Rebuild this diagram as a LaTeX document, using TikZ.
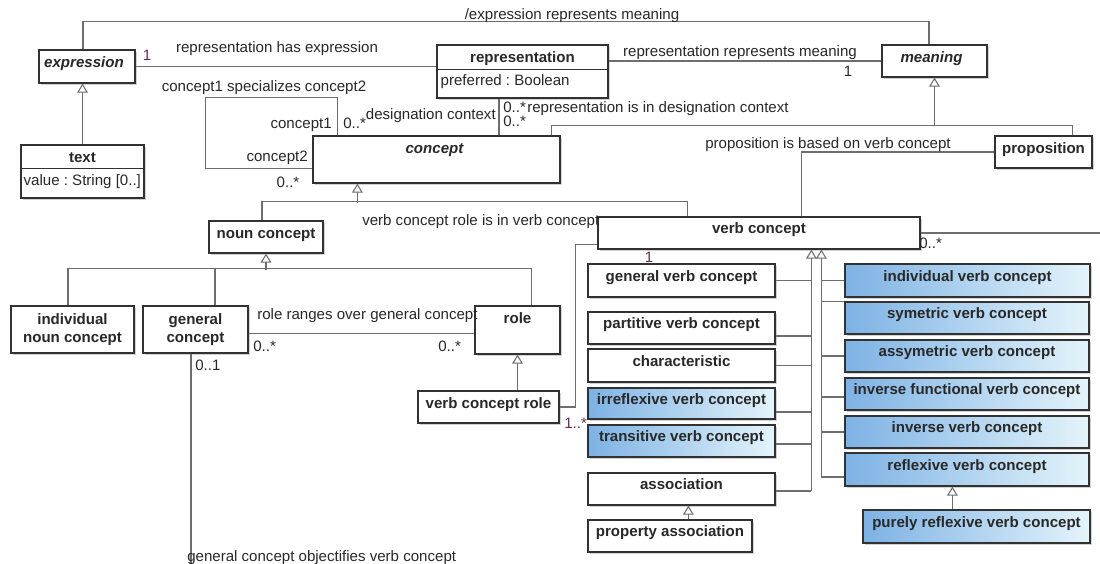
\documentclass[tikz,border=0pt]{standalone}
\usepackage{fontspec}
\setmainfont{Liberation Sans}
\frenchspacing
\usetikzlibrary{arrows.meta,calc,fit,shadows}
\definecolor{lnc}{RGB}{110,110,110}
\definecolor{bdc}{RGB}{50,50,50}
\definecolor{txc}{RGB}{40,40,40}
\definecolor{mult}{RGB}{105,45,80}
\definecolor{gL}{RGB}{125,178,228}
\definecolor{gR}{RGB}{228,244,251}
\tikzset{
 box/.style={draw=bdc, line width=0.9pt, fill=white, inner sep=0pt,
   drop shadow={shadow xshift=1.5pt, shadow yshift=-1.5pt, opacity=0.35}},
 gbox/.style={box, left color=gL, right color=gR},
 ttl/.style={font=\fontsize{11.3}{13.5}\selectfont\bfseries, text=txc, anchor=base, inner sep=0pt, yshift=-0.8pt},
 ittl/.style={font=\fontsize{11.3}{13.5}\selectfont\bfseries\itshape, text=txc, anchor=base, inner sep=0pt, yshift=-0.8pt},
 ttl2/.style={font=\fontsize{11.3}{13.5}\selectfont\bfseries, text=txc, anchor=north, inner sep=0pt, align=center},
 lbl/.style={font=\fontsize{11.3}{13.5}\selectfont, text=txc, inner sep=0pt},
 conn/.style={draw=lnc, line width=0.8pt},
 gen/.style={conn, -{Triangle[open, length=6.75pt, width=8pt, line width=0.8pt]}},
}
\begin{document}
\begin{tikzpicture}[x=0.75pt,y=-0.75pt]
\fill[white] (0,0) rectangle (1100,564);
\useasboundingbox (0,0) rectangle (1100,564);

% ---------- boxes ----------
\node[box, fit={(39,50) (135,83)}] (expression) {};
\node[ittl] (expression-t) at ($(expression.north)+(-3,17)$) {expression};

\node[box, fit={(21,145) (144,198)}] (txt) {};
\node[ttl] (txt-t) at ($(txt.north)+(0,17)$) {text};
\node[lbl, anchor=base west] (txt-a) at ($(txt.north west)+(3,41)$) {value : String [0..]};

\node[box, fit={(437,45) (608,98)}] (representation) {};
\node[ttl] (representation-t) at ($(representation.north)+(0,17)$) {representation};
\node[lbl, anchor=base west] (representation-a) at ($(representation.north west)+(4,41)$) {preferred : Boolean};

\node[box, fit={(882,45) (987,77)}] (meaning) {};
\node[ittl] (meaning-t) at ($(meaning.north)+(-3,17)$) {meaning};

\node[box, fit={(313,136) (560,183)}] (concept) {};
\node[ittl] (concept-t) at ($(concept.north)+(-2,17)$) {concept};

\node[box, fit={(995,136) (1092,168)}] (proposition) {};
\node[ttl] (proposition-t) at ($(proposition.north)+(0,17)$) {proposition};

\node[box, fit={(209,221) (323,253)}] (noun) {};
\node[ttl] (noun-t) at ($(noun.north)+(0,17)$) {noun concept};

\node[box, fit={(598,217) (920,249)}] (verb) {};
\node[ttl] (verb-t) at ($(verb.north)+(0,16)$) {verb concept};

\node[box, fit={(11,306) (134,353)}] (ind) {};
\node[ttl2] (ind-t) at ($(ind.north)+(0,7.5)$) {individual\\noun concept};

\node[box, fit={(143,306) (248,353)}] (gc) {};
\node[ttl2] (gc-t) at ($(gc.north)+(0,7.5)$) {general\\concept};

\node[box, fit={(475,306) (560,354)}] (role) {};
\node[ttl] (role-t) at ($(role.north)+(0,17)$) {role};

\node[box, fit={(418,391) (559,423)}] (vcr) {};
\node[ttl] (vcr-t) at ($(vcr.north)+(0,17)$) {verb concept role};

\node[box, fit={(588,264) (775,297)}] (gvc) {};
\node[ttl] (gvc-t) at ($(gvc.north)+(0,17)$) {general verb concept};
\node[box, fit={(588,312) (775,344)}] (pvc) {};
\node[ttl] (pvc-t) at ($(pvc.north)+(0,16)$) {partitive verb concept};
\node[box, fit={(588,349) (775,382)}] (chr) {};
\node[ttl] (chr-t) at ($(chr.north)+(0,17)$) {characteristic};
\node[gbox, fit={(588,388) (775,419)}] (irr) {};
\node[ttl] (irr-t) at ($(irr.north)+(0,16)$) {irreflexive verb concept};
\node[gbox, fit={(588,425) (775,457)}] (trn) {};
\node[ttl] (trn-t) at ($(trn.north)+(0,16)$) {transitive verb concept};
\node[box, fit={(588,473) (775,505)}] (asc) {};
\node[ttl] (asc-t) at ($(asc.north)+(0,16)$) {association};
\node[box, fit={(588,520) (752,552)}] (pas) {};
\node[ttl] (pas-t) at ($(pas.north)+(0,16)$) {property association};

\node[gbox, fit={(845,264) (1090,297)}] (ivc) {};
\node[ttl] (ivc-t) at ($(ivc.north)+(0,17)$) {individual verb concept};
\node[gbox, fit={(845,302) (1089,334)}] (sym) {};
\node[ttl] (sym-t) at ($(sym.north)+(0,16)$) {symetric verb concept};
\node[gbox, fit={(845,340) (1089,372)}] (asy) {};
\node[ttl] (asy-t) at ($(asy.north)+(0,16)$) {assymetric verb concept};
\node[gbox, fit={(845,378) (1089,410)}] (ifv) {};
\node[ttl] (ifv-t) at ($(ifv.north)+(0,16)$) {inverse functional verb concept};
\node[gbox, fit={(845,416) (1089,448)}] (inv) {};
\node[ttl] (inv-t) at ($(inv.north)+(0,16)$) {inverse verb concept};
\node[gbox, fit={(845,453) (1089,486)}] (rfl) {};
\node[ttl] (rfl-t) at ($(rfl.north)+(0,17)$) {reflexive verb concept};
\node[gbox, fit={(863,510) (1090,543)}] (prf) {};
\node[ttl] (prf-t) at ($(prf.north)+(0,17)$) {purely reflexive verb concept};

% compartment dividers
\draw[draw=bdc, line width=0.9pt] ($(txt.north west)+(0,24)$) -- ($(txt.north east)+(0,24)$);
\draw[draw=bdc, line width=0.9pt] ($(representation.north west)+(0,25)$) -- ($(representation.north east)+(0,25)$);

% ---------- connectors ----------
% /expression represents meaning
\draw[conn] ($(expression.north)+(-4,0)$) -- ++(0,-28) -| ($(meaning.north)+(-5.5,0)$);
% text -> expression
\draw[gen] (txt.north) -- (txt.north |- expression.south);
% representation has expression
\draw[conn] (expression.east) -- (expression.east -| representation.west);
% representation represents meaning
\draw[conn] (meaning.west -| representation.east) -- (meaning.west);
% representation is in designation context
\coordinate (dc) at ($(representation.south)+(-23.5,0)$);
\draw[conn] (dc) -- (dc |- concept.north);
% concept1 specializes concept2
\draw[conn] ($(concept.north west)+(25,0)$) -- ++(0,-38) -| ++(-132,71) -- ($(concept.north west)+(0,33)$);
% concept, proposition -> meaning
\coordinate (pbus) at ($(concept.north east)+(-9,-10)$);
\draw[conn] ($(concept.north east)+(-9,0)$) |- ($(proposition.north east)+(-20,-10)$) -- ($(proposition.north east)+(-20,0)$);
\draw[gen] (pbus -| meaning.south) -- (meaning.south);
% proposition is based on verb concept
\draw[conn] (proposition.west) -| ($(verb.north west)+(204,0)$);
% noun concept, verb concept -> concept
\coordinate (cbus) at ($(concept.south west)+(45,19)$);
\draw[gen] (cbus) -- (cbus |- concept.south);
\draw[conn] ($(noun.north)+(-4,0)$) |- ($(verb.north west)+(90,-15)$) -- ($(verb.north west)+(90,0)$);
% individual noun concept, general concept, role -> noun concept
\draw[gen] ($(noun.south)+(0,16)$) -- (noun.south);
\draw[conn] ($(ind.north)+(-4.5,0)$) |- ($(role.north west)+(57,-37)$) -- ($(role.north west)+(57,0)$);
\draw[conn] ($(gc.north)+(19.5,0)$) -- ++(0,-37);
% role ranges over general concept
\draw[conn] ($(gc.north east)+(0,28)$) -- ($(role.north west)+(0,28)$);
% verb concept role -> role
\draw[gen] (role.south |- vcr.north) -- (role.south);
% verb concept role is in verb concept
\draw[conn] (vcr.east) -- ++(16,0) |- ($(verb.south west)+(0,-5)$);
% general concept objectifies verb concept
\draw[conn] ($(gc.south)+(-4.5,0)$) -- ++(0,215);
\coordinate (offR) at ($(verb.east)+(185,0)$);
\draw[conn] (verb.east) -- (offR);
% verb concept specialisations, left bus
\coordinate (lb) at ($(verb.south west)+(214,0)$);
\coordinate (rb) at ($(verb.south west)+(224,0)$);
\coordinate (ascE) at ($(asc.east)+(0,2)$);
\draw[gen] (ascE -| lb) -- (lb);
\draw[conn] (ascE) -- (ascE -| lb);
\draw[conn] (gvc.east) -- (gvc.east -| lb);
\coordinate (pvcE) at ($(pvc.east)+(0,8)$);
\draw[conn] (pvcE) -- (pvcE -| lb);
\draw[conn] (chr.east) -- (chr.east -| lb);
\coordinate (irrE) at ($(irr.east)+(0,8.5)$);
\draw[conn] (irrE) -- (irrE -| lb);
\coordinate (trnE) at ($(trn.east)+(0,3)$);
\draw[conn] (trnE) -- (trnE -| lb);
% right bus
\coordinate (rflW) at ($(rfl.west)+(0,7.5)$);
\draw[gen] (rflW -| rb) -- (rb);
\draw[conn] (rflW) -- (rflW -| rb);
\draw[conn] (ivc.west) -- (ivc.west -| rb);
\draw[conn] (sym.north west) -- (sym.north west -| rb);
\draw[conn] (asy.west) -- (asy.west -| rb);
\coordinate (ifvW) at ($(ifv.west)+(0,3)$);
\draw[conn] (ifvW) -- (ifvW -| rb);
\draw[conn] (inv.west) -- (inv.west -| rb);
% purely reflexive -> reflexive
\coordinate (prT) at ($(prf.north west)+(90,0)$);
\draw[gen] (prT) -- (prT |- rfl.south);
% property association -> association
\coordinate (paT) at ($(pas.north west)+(101,0)$);
\draw[gen] (paT) -- (paT |- asc.south);

% ---------- labels ----------
\node[lbl, anchor=base] (l1) at (572,19) {/expression represents meaning};
\node[lbl, anchor=base] (l2) at (277,52) {representation has expression};
\node[lbl, anchor=base, text=mult] (l3) at (147,60) {1};
\node[lbl, anchor=base] (l4) at (740,56) {representation represents meaning};
\node[lbl, anchor=base] (l5) at (848,76) {1};
\node[lbl, anchor=base] (l6) at (264,91) {concept1 specializes concept2};
\node[lbl, anchor=base east] (l7) at (332,128) {concept1};
\node[lbl, anchor=base west] (l8) at (343,128) {0..*};
\node[lbl, anchor=base east] (l9) at (496,119) {designation context};
\node[lbl, anchor=base west] (l10) at (503,112) {0..*};
\node[lbl, anchor=base west] (l11) at (503,126) {0..*};
\node[lbl, anchor=base west] (l12) at (527,112) {representation is in designation context};
\node[lbl, anchor=base east] (l13) at (308,161) {concept2};
\node[lbl, anchor=base] (l14) at (288,187) {0..*};
\node[lbl, anchor=base] (l15) at (828,148) {proposition is based on verb concept};
\node[lbl, anchor=base west] (l16) at (362,225) {verb concept role is in verb concept};
\node[lbl, anchor=base, text=mult] (l17) at (649,262) {1};
\node[lbl, anchor=base west, text=mult] (l18) at (564,428) {1..*};
\node[lbl, anchor=base west] (l19) at (257,319) {role ranges over general concept};
\node[lbl, anchor=base west] (l20) at (253,351) {0..*};
\node[lbl, anchor=base west] (l21) at (438,351) {0..*};
\node[lbl, anchor=base west] (l22) at (195,370) {0..1};
\node[lbl, anchor=base west] (l23) at (187,561) {general concept objectifies verb concept};
\node[lbl, anchor=base west] (l24) at (919,248) {0..*};
\end{tikzpicture}
\end{document}
